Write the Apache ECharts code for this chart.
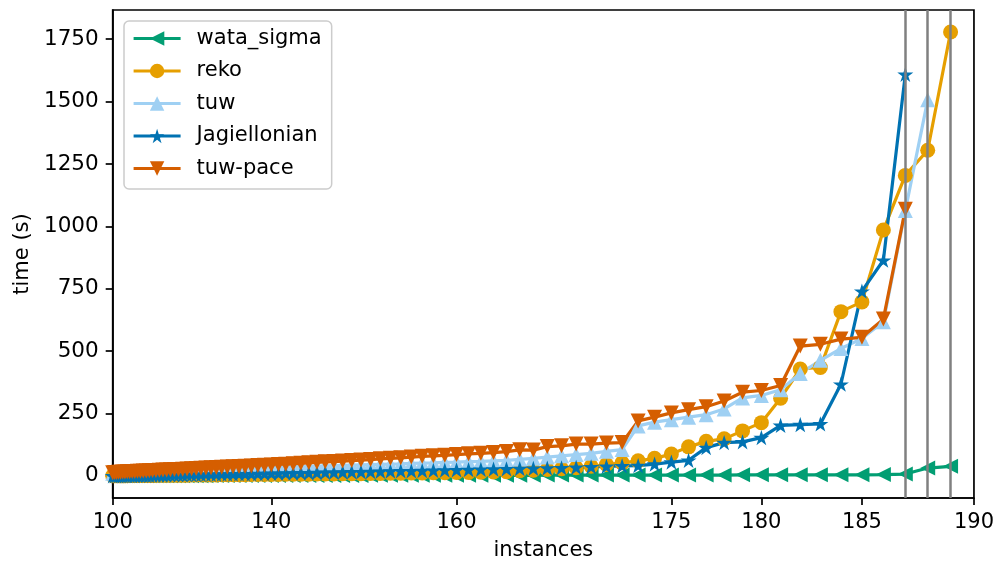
<!DOCTYPE html>
<html>
<head>
<meta charset="utf-8">
<script src="https://cdn.jsdelivr.net/npm/echarts@6/dist/echarts.min.js"></script>
<style>
  html, body { margin: 0; padding: 0; background: #fff; }
  #chart { width: 997px; height: 566px; }
</style>
</head>
<body>
<div id="chart"></div>
<script>
// instances solved (x), first point shown is instance 100
const firstInstance = 100
const xTicks = [100, 140, 160, 175, 180, 185, 190]
const yTicks = [0, 250, 500, 750, 1000, 1250, 1500, 1750]
const solvedMax = [187, 188, 189]

// time (s) per solved instance, from instance 100 on
const wataSigma = [
    0, 0, 0, 0, 0, 0, 0, 0, 0, 0, 0, 0, 0, 0, 0, 0, 0, 0, 0, 0,
    0, 0, 0, 0, 0, 0, 0, 0, 0, 0, 1, 1, 1, 1, 1, 1, 1, 1, 1, 1,
    1, 1, 1, 1, 1, 1, 1, 1, 1, 1, 1, 1, 2, 2, 2, 2, 2, 2, 2, 2,
    2, 2, 2, 2, 2, 2, 2, 3, 3, 3, 3, 3, 3, 3, 3, 3, 3, 3, 3, 4,
    4, 4, 4, 4, 4, 4, 5, 7, 31, 38
]
const reko = [
    0, 0, 0, 0, 0, 0, 0, 0, 1, 1, 1, 1, 1, 1, 1, 1, 1, 2, 2, 2,
    2, 2, 2, 2, 2, 2, 3, 3, 3, 3, 3, 3, 4, 4, 4, 4, 4, 5, 5, 5,
    5, 5, 6, 6, 6, 6, 7, 7, 7, 8, 8, 8, 9, 9, 10, 10, 11, 11, 12, 12,
    13, 13, 14, 15, 16, 20, 22, 25, 28, 32,
    38, 45, 52, 60, 70, 87, 116, 138, 148, 180,
    213, 311, 428, 434, 658, 697, 985, 1204, 1305, 1779
]
const tuw = [
    10, 10, 11, 11, 12, 12, 13, 13, 14, 14,
    15, 15, 16, 16, 17, 17, 18, 18, 19, 19,
    20, 20, 21, 21, 22, 22, 23, 24, 24, 25,
    26, 26, 27, 28, 28, 29, 30, 31, 31, 32,
    33, 34, 35, 36, 37, 38, 39, 40, 41, 42,
    43, 44, 45, 46, 47, 48, 50, 51, 52, 54,
    55, 57, 58, 60, 62, 66, 70, 75, 80, 85,
    90, 98, 105, 200, 215, 225, 235, 245, 268, 312,
    322, 345, 410, 463, 510, 550, 617, 1063, 1507
]
const jagiellonian = [
    0, 0, 0, 0, 1, 1, 1, 1, 1, 1,
    1, 2, 2, 2, 2, 2, 3, 3, 3, 3,
    3, 4, 4, 4, 4, 5, 5, 5, 5, 6,
    6, 6, 7, 7, 7, 8, 8, 8, 9, 9,
    10, 10, 11, 11, 12, 12, 13, 14, 14, 15,
    16, 16, 17, 18, 19, 20, 20, 21, 22, 23,
    24, 25, 26, 27, 28, 29, 30, 31, 32, 34,
    36, 38, 40, 41, 47, 55, 62, 113, 133, 136,
    153, 202, 205, 208, 367, 740, 864, 1609
]
const tuwPace = [
    12, 13, 13, 14, 14, 15, 15, 16, 16, 17,
    17, 18, 18, 19, 19, 20, 21, 21, 22, 23,
    23, 24, 25, 25, 26, 27, 28, 29, 30, 31,
    32, 33, 34, 35, 36, 37, 38, 39, 41, 42,
    43, 45, 46, 48, 50, 52, 54, 56, 57, 59,
    61, 63, 65, 68, 70, 72, 75, 78, 80, 82,
    85, 88, 90, 93, 97, 104, 103, 117, 120, 127,
    127, 131, 133, 220, 235, 252, 265, 277, 300, 335,
    342, 362, 520, 527, 548, 555, 628, 1068
]

// x axis of the original is stretched like n^5
const toAxis = n => Math.pow(n / 100, 5)
const fromAxis = v => Math.round(100 * Math.pow(v, 0.2))

const star = 'path://M50,0L61.17,34.63L97.55,34.55L68.07,55.87L79.39,90.45L50,69L20.61,90.45L31.93,55.87L2.45,34.55L38.83,34.63Z'
const font = 'DejaVu Sans'

function makeSeries(name, values, color, symbol, rotate, size) {
    return {
        name: name,
        type: 'line',
        data: values.map((t, i) => [toAxis(firstInstance + i), t]),
        showSymbol: true,
        showAllSymbol: true,
        symbol: symbol,
        symbolSize: size,
        symbolRotate: rotate,
        symbolKeepAspect: true,
        color: color,
        itemStyle: { color: color, borderWidth: 0 },
        lineStyle: { color: color, width: 3.2 },
        emphasis: { disabled: true }
    }
}

const series = [
    makeSeries('wata_sigma', wataSigma, '#029e73', 'triangle', 90, 15),
    makeSeries('reko', reko, '#e69f00', 'circle', 0, 15),
    makeSeries('tuw', tuw, '#9fd0f3', 'triangle', 0, 15),
    makeSeries('Jagiellonian', jagiellonian, '#0072b2', star, 0, 16),
    makeSeries('tuw-pace', tuwPace, '#d55e00', 'triangle', 180, 15)
]
series[0].markLine = {
    silent: true,
    symbol: 'none',
    label: { show: false },
    lineStyle: { color: '#808080', width: 2.5, type: 'solid' },
    data: solvedMax.map(n => ({ xAxis: toAxis(n) }))
}

const chart = echarts.init(document.getElementById('chart'), null, { renderer: 'canvas' })
chart.setOption({
    animation: false,
    backgroundColor: '#fff',
    textStyle: { fontFamily: font },
    grid: {
        left: 112.7,
        right: 22,
        top: 10,
        bottom: 67,
        show: true,
        borderColor: '#000',
        borderWidth: 1.7,
        backgroundColor: 'transparent'
    },
    legend: {
        orient: 'vertical',
        left: 124,
        top: 21,
        padding: [7, 10, 10, 8],
        itemGap: 11.5,
        itemWidth: 47,
        itemHeight: 18,
        borderColor: '#cccccc',
        borderWidth: 1.5,
        borderRadius: 5,
        backgroundColor: 'rgba(255,255,255,0.8)',
        lineStyle: { width: 3.2 },
        textStyle: { fontFamily: font, fontSize: 21, color: '#000', padding: [0, 0, 0, 11] },
        data: ['wata_sigma', 'reko', 'tuw', 'Jagiellonian', 'tuw-pace']
    },
    xAxis: {
        type: 'value',
        min: toAxis(100),
        max: toAxis(190),
        name: 'instances',
        nameLocation: 'middle',
        nameGap: 42,
        nameTextStyle: { fontFamily: font, fontSize: 21, color: '#000' },
        axisLine: { show: true, onZero: false, lineStyle: { color: '#000', width: 1.7 } },
        axisTick: {
            show: true,
            length: 7,
            customValues: xTicks.map(toAxis),
            lineStyle: { color: '#000', width: 1.7 }
        },
        axisLabel: {
            customValues: xTicks.map(toAxis),
            formatter: v => String(fromAxis(v)),
            margin: 14,
            fontFamily: font,
            fontSize: 21,
            color: '#000'
        },
        splitLine: { show: false }
    },
    yAxis: {
        type: 'value',
        min: -89,
        max: 1867,
        name: 'time (s)',
        nameLocation: 'middle',
        nameRotate: 90,
        nameGap: 59,
        nameTextStyle: { fontFamily: font, fontSize: 21, color: '#000' },
        axisLine: { show: true, onZero: false, lineStyle: { color: '#000', width: 1.7 } },
        axisTick: {
            show: true,
            length: 7,
            customValues: yTicks,
            lineStyle: { color: '#000', width: 1.7 }
        },
        axisLabel: {
            customValues: yTicks,
            formatter: v => String(v),
            margin: 14,
            fontFamily: font,
            fontSize: 21.5,
            color: '#000'
        },
        splitLine: { show: false }
    },
    series: series
})
</script>
</body>
</html>
